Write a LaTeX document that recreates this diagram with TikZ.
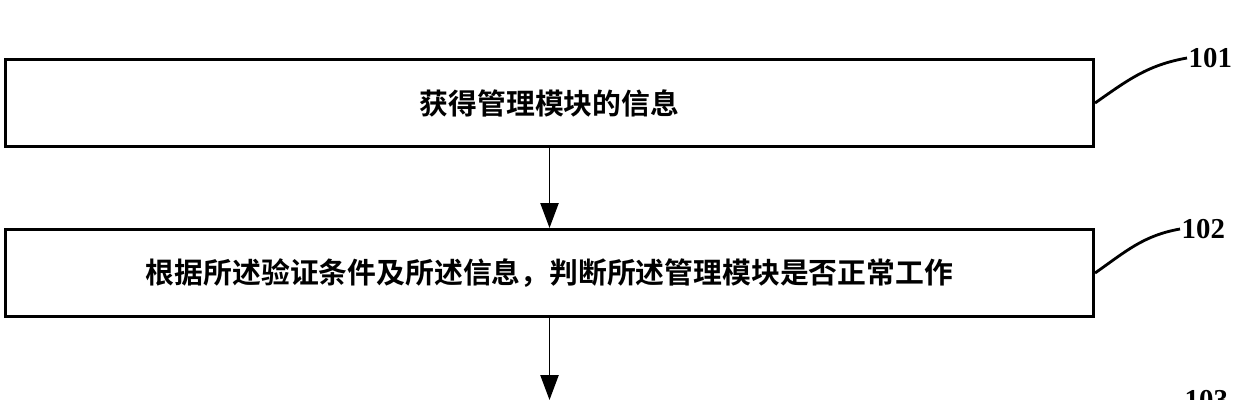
\documentclass[tikz,border=0pt]{standalone}
\usepackage{fontspec}
\setmainfont{Liberation Serif}
\newfontfamily\cjk{Noto Sans CJK SC}[BoldFont={Noto Sans CJK SC Bold}]
\usetikzlibrary{arrows.meta}

\begin{document}
\begin{tikzpicture}[x=0.025cm, y=-0.025cm,
    stepbox/.style={draw, line width=2pt, minimum width=27.2cm, minimum height=2.18cm,
      inner sep=0pt, font=\cjk\bfseries\fontsize{20.5}{24}\selectfont},
    tag/.style={anchor=west, inner sep=1pt, font=\bfseries\fontsize{20.5}{24}\selectfont},
    leader/.style={line width=2pt}]
    \clip (0,0) rectangle (1233,400);

    \node (s101) [stepbox] at (549.5,103) {获得管理模块的信息};
    \node (s102) [stepbox] at (549.5,273) {根据所述验证条件及所述信息，判断所述管理模块是否正常工作};
    \coordinate (s103) at (549.5,400);

    \node (t101) [tag] at (1187,58) {101};
    \node (t102) [tag] at (1180,229) {102};
    \node (t103) [tag] at (1183,400) {103};

    \path [-{Triangle[length=0.62cm, width=0.45cm]}, line width=1.4pt]
      (s101) edge (s102)
      (s102) edge (s103);

    \path [leader]
      (s101.east) edge [out=35, in=190] (t101.west)
      (s102.east) edge [out=35, in=190] (t102.west);
\end{tikzpicture}
\end{document}
